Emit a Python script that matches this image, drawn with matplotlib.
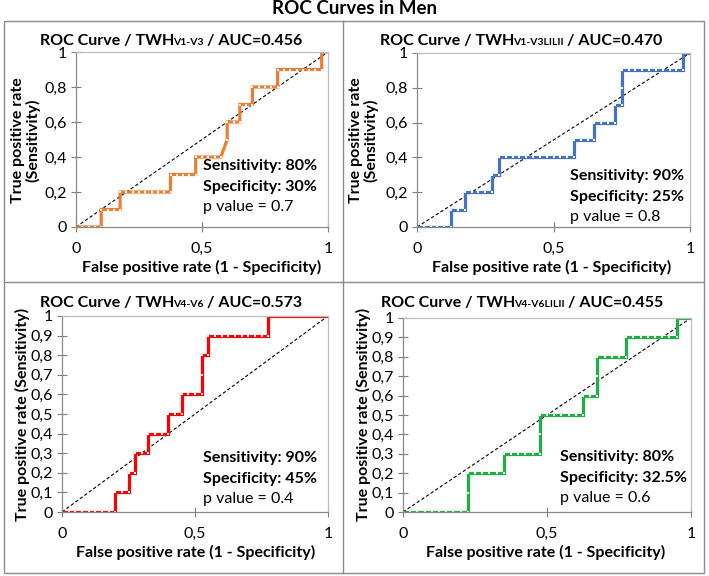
import matplotlib
matplotlib.use("Agg")
import matplotlib.pyplot as plt
from matplotlib.patches import Rectangle

plt.rcParams['font.family'] = ['Lato', 'DejaVu Sans']

W, H = 709, 576

# ROC points: false positives out of 40, true positives out of 10
fp_v13 = [0, 1, 2, 3, 4, 4, 5, 6, 7, 7, 8, 9, 10, 11, 12, 13, 14, 15, 15, 16, 17, 18, 19,
          19, 20, 21, 22, 23, 24, 24, 25, 26, 26, 27, 28, 28, 29, 30, 31, 32,
          32, 33, 34, 35, 36, 37, 38, 39, 39, 40]
tp_v13 = [0, 0, 0, 0, 0, 1, 1, 1, 1, 2, 2, 2, 2, 2, 2, 2, 2, 2, 3, 3, 3, 3, 3,
          4, 4, 4, 4, 4, 5, 6, 6, 6, 7, 7, 7, 8, 8, 8, 8, 8,
          9, 9, 9, 9, 9, 9, 9, 9, 10, 10]

fp_v13l = [0, 1, 2, 3, 4, 5, 5, 6, 7, 7, 8, 9, 10, 11, 11, 12,
           12, 13, 14, 15, 16, 17, 18, 19, 20, 21, 22, 23, 23, 24, 25, 26,
           26, 27, 28, 29, 29, 30, 30, 30, 31, 32, 33, 34, 35, 36, 37, 38, 39, 39, 40]
tp_v13l = [0, 0, 0, 0, 0, 0, 1, 1, 1, 2, 2, 2, 2, 2, 3, 3,
           4, 4, 4, 4, 4, 4, 4, 4, 4, 4, 4, 4, 5, 5, 5, 5,
           6, 6, 6, 6, 7, 7, 8, 9, 9, 9, 9, 9, 9, 9, 9, 9, 9, 10, 10]

fp_v46 = [0, 1, 2, 3, 4, 5, 6, 7, 8, 8, 9, 10, 10, 11, 11, 12, 13, 13, 14, 15, 16,
          16, 17, 18, 18, 19, 20, 21, 21, 21, 22, 22, 23, 24, 25, 26, 27, 28, 29, 30, 31,
          31, 32, 33, 34, 35, 36, 37, 38, 39, 40]
tp_v46 = [0, 0, 0, 0, 0, 0, 0, 0, 0, 1, 1, 1, 2, 2, 3, 3, 3, 4, 4, 4, 4,
          5, 5, 5, 6, 6, 6, 6, 7, 8, 8, 9, 9, 9, 9, 9, 9, 9, 9, 9, 9,
          10, 10, 10, 10, 10, 10, 10, 10, 10, 10]

fp_v46l = [0, 1, 2, 3, 4, 5, 6, 7, 8, 9, 9, 9, 10, 11, 12, 13, 14, 14, 15, 16, 17, 18, 19,
           19, 19, 20, 21, 22, 23, 24, 25, 25, 26, 27, 27, 27, 28, 29, 30, 31,
           31, 32, 33, 34, 35, 36, 37, 38, 38, 39, 40]
tp_v46l = [0, 0, 0, 0, 0, 0, 0, 0, 0, 0, 1, 2, 2, 2, 2, 2, 2, 3, 3, 3, 3, 3, 3,
           4, 5, 5, 5, 5, 5, 5, 5, 6, 6, 6, 7, 8, 8, 8, 8, 8,
           9, 9, 9, 9, 9, 9, 9, 9, 10, 10, 10]

leads = ["V1-V3", "V1-V3LILII", "V4-V6", "V4-V6LILII"]
aucs = ["0.456", "0.470", "0.573", "0.455"]
sens = ["80%", "90%", "90%", "80%"]
spec = ["30%", "25%", "45%", "32.5%"]
pvals = ["0.7", "0.8", "0.4", "0.6"]
colors = ["#ED7D31", "#4472C4", "#FF0000", "#1DB045"]
fps = [fp_v13, fp_v13l, fp_v46, fp_v46l]
tps = [tp_v13, tp_v13l, tp_v46, tp_v46l]

# axes boxes in pixels: left, top, right, bottom
boxes = [(76, 52, 328, 227), (417, 53, 690, 227), (62, 316, 328, 512), (403, 318, 691, 512)]
title_pos = [(172, 45), (522, 45), (172, 307), (523, 307)]
note_pos = [(203, 170), (570, 180), (203, 462), (560, 461)]
xlab_pos = [(202, 272), (552, 272), (196, 557), (546, 557)]
ylab_pos = [(26, 140), (364, 140), (22, 414), (363, 414)]

fig = plt.figure(figsize=(W / 100, H / 100), dpi=100)

# panel frames
grey = "#8c8c8c"
fig.patches.append(Rectangle((4 / W, 1 - 573 / H), 700 / W, 552 / H, transform=fig.transFigure,
                             fill=False, edgecolor=grey, lw=1))
fig.add_artist(plt.Line2D([343 / W, 343 / W], [1 - 573 / H, 1 - 21 / H], color=grey, lw=1))
fig.add_artist(plt.Line2D([4 / W, 704 / W], [1 - 282 / H, 1 - 282 / H], color=grey, lw=1))

fig.text(354 / W, 1 - 14 / H, "ROC Curves in Men", ha="center", va="baseline",
         fontsize=13.5, fontweight="bold")

title_parts = []
for i in range(4):
    l, t, r, b = boxes[i]
    ax = fig.add_axes([l / W, 1 - b / H, (r - l) / W, (b - t) / H])
    x = [v / 40 for v in fps[i]]
    y = [v / 10 for v in tps[i]]
    ax.plot([0, 1], [0, 1], color="black", lw=0.8, dashes=(3, 2))
    ax.plot(x, y, color=colors[i], lw=2.3, marker="s", markersize=2.0,
            markerfacecolor="white", markeredgewidth=0, solid_joinstyle="miter")
    ax.set_xlim(0, 1)
    ax.set_ylim(0, 1)
    ax.set_xticks([0, 0.5, 1])
    ax.set_xticklabels(["0", "0,5", "1"])
    if i < 2:
        yt = [0, 0.2, 0.4, 0.6, 0.8, 1]
        ax.set_yticks(yt)
        ax.set_yticklabels(["0", "0,2", "0,4", "0,6", "0,8", "1"])
    else:
        yt = [k / 10 for k in range(11)]
        ax.set_yticks(yt)
        ax.set_yticklabels(["0"] + ["0,%d" % k for k in range(1, 10)] + ["1"])
    ax.tick_params(direction="inout", length=7, width=0.8, color="#7f7f7f", labelsize=11.5, pad=3)
    for s in ["left", "bottom"]:
        ax.spines[s].set_color("#8a8a8a")
    for s in ["top", "right"]:
        ax.spines[s].set_color("#bdbdbd")
    for s in ax.spines.values():
        s.set_linewidth(0.9)
    ax.tick_params(axis="x", pad=7)

    nx, ny = note_pos[i]
    fig.text(nx / W, 1 - ny / H, "Sensitivity: " + sens[i], fontsize=11.5, fontweight="bold",
             va="baseline")
    fig.text(nx / W, 1 - (ny + 21) / H, "Specificity: " + spec[i], fontsize=11.5,
             fontweight="bold", va="baseline")
    fig.text(nx / W, 1 - (ny + 41) / H, "p value = " + pvals[i], fontsize=11.5, va="baseline")

    lx, ly = xlab_pos[i]
    fig.text(lx / W, 1 - ly / H, "False positive rate (1 - Specificity)",
             ha="center", va="baseline", fontsize=11.5, fontweight="bold")
    yx, yy = ylab_pos[i]
    ylab = "True positive rate\n(Sensitivity)" if i < 2 else "True positive rate (Sensitivity)"
    fig.text(yx / W, 1 - yy / H, ylab, ha="center", va="center", rotation=90,
             fontsize=11.5, fontweight="bold", linespacing=1.05)

    tx, ty = title_pos[i]
    parts = [fig.text(0, 1 - ty / H, "ROC Curve / TWH", fontsize=11.5, fontweight="bold", va="baseline"),
             fig.text(0, 1 - ty / H, leads[i], fontsize=7.5, fontweight="bold", va="baseline"),
             fig.text(0, 1 - ty / H, "/ AUC=" + aucs[i], fontsize=11.5, fontweight="bold", va="baseline")]
    title_parts.append((tx, parts))

fig.canvas.draw()
rend = fig.canvas.get_renderer()
for tx, parts in title_parts:
    ws = [p.get_window_extent(rend).width for p in parts]
    gap = 4
    total = sum(ws) + gap
    x0 = tx - total / 2
    parts[0].set_x(x0 / W)
    parts[1].set_x((x0 + ws[0] - 1) / W)
    parts[2].set_x((x0 + ws[0] + ws[1] + gap - 2) / W)

fig.savefig("out.png", dpi=100)
